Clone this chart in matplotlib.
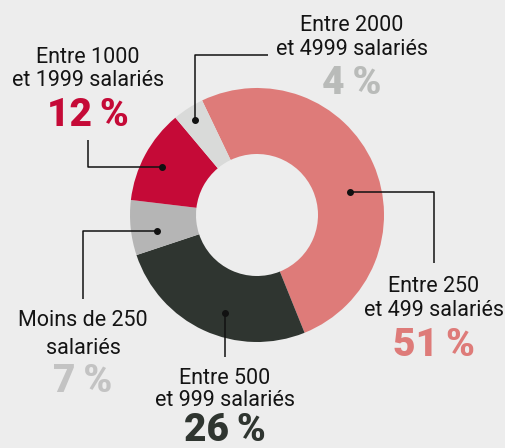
import matplotlib
matplotlib.use("Agg")
import matplotlib.pyplot as plt
from matplotlib import font_manager
from matplotlib.font_manager import FontProperties

# data, clockwise from the top
labels = [
    ["Entre 250", "et 499 salariés"],
    ["Entre 500", "et 999 salariés"],
    ["Moins de 250", "salariés"],
    ["Entre 1000", "et 1999 salariés"],
    ["Entre 2000", "et 4999 salariés"],
]
shares = [51, 26, 7, 12, 4]
colors = ["#de7b79", "#2f3530", "#b5b5b5", "#c50a37", "#d9dad9"]
pct_colors = ["#de7b79", "#2f3530", "#c3c3c3", "#c50a37", "#b9bbb9"]

W, H = 505, 448
BG = "#ededed"


def pick(names):
    for n in names:
        try:
            font_manager.findfont(FontProperties(family=n), fallback_to_default=False)
            return n
        except ValueError:
            pass
    return "DejaVu Sans"


label_font = pick(["Liberation Sans Narrow", "Roboto", "DejaVu Sans"])
pct_font = pick(["Roboto", "DejaVu Sans"])

# layout in pixels (y from top): leader path, text x, label line y's, pct y
layout = [
    dict(path=[(350, 192), (434, 192), (434, 263)], x=434, ys=[287, 311], py=345),
    dict(path=[(225, 313), (225, 357)], x=225, ys=[378, 401], py=430),
    dict(path=[(157, 231), (83, 231), (83, 299)], x=83, ys=[321, 349], py=381),
    dict(path=[(162, 167), (88, 167), (88, 140)], x=88, ys=[57, 80], py=115),
    dict(path=[(195, 120), (195, 55), (268, 55)], x=352, ys=[25, 49], py=83),
]


def fy(y):
    return H - y


fig = plt.figure(figsize=(W / 100, H / 100), dpi=100, facecolor=BG)
ax = fig.add_axes([0, 0, 1, 1])
ax.set_facecolor(BG)

ax.pie(shares, colors=colors, center=(257, fy(215)), radius=127,
       startangle=115.6, counterclock=False,
       wedgeprops=dict(width=66, linewidth=0))

for lab, share, pc, lay in zip(labels, shares, pct_colors, layout):
    xs = [p[0] for p in lay["path"]]
    ys = [fy(p[1]) for p in lay["path"]]
    ax.plot(xs, ys, color="#111111", lw=1.1, solid_capstyle="butt", zorder=5)
    ax.plot(xs[0], ys[0], "o", color="#111111", ms=4, zorder=6)
    for line, y in zip(lab, lay["ys"]):
        ax.text(lay["x"], fy(y), line, ha="center", va="center",
                fontsize=15.5, family=label_font, color="#141414")
    ax.text(lay["x"], fy(lay["py"]), f"{share}\u2009%", ha="center", va="center",
            fontsize=28, family=pct_font, fontweight="heavy", color=pc)

ax.set_xlim(0, W)
ax.set_ylim(0, H)
ax.axis("off")

fig.savefig("out.png", dpi=100, facecolor=BG)
